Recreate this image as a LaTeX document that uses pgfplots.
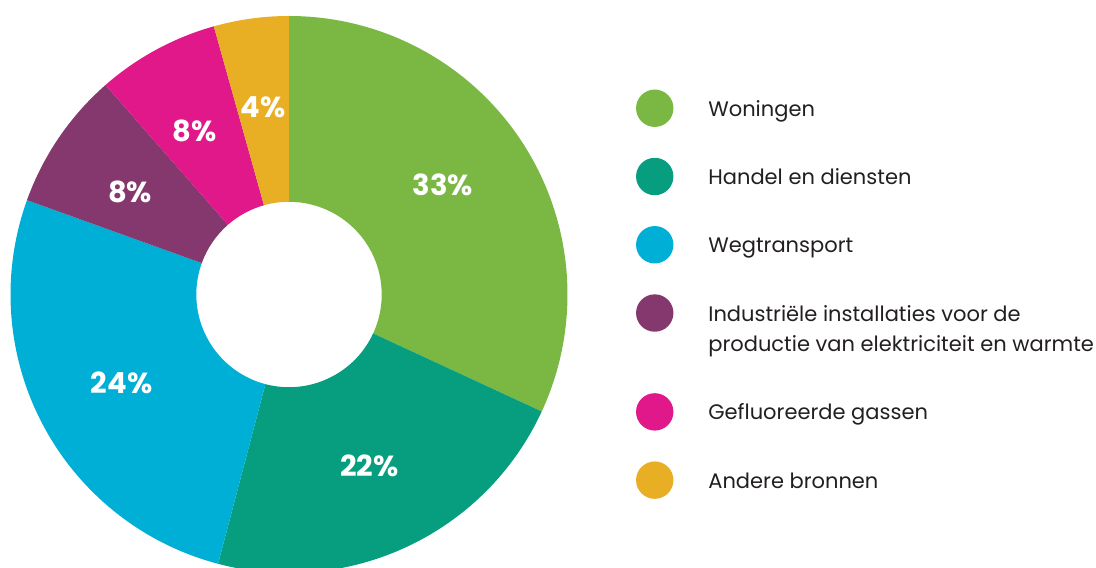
\documentclass[border=0pt]{standalone}
\usepackage{pgfplots}
\usepackage{pgfplotstable}
\pgfplotsset{compat=1.18}
\usepackage{fontspec}
\setmainfont{Poppins}
\newfontfamily\poppins{Poppins}
\definecolor{cgreen}{HTML}{7AB843}
\definecolor{cteal}{HTML}{069E7F}
\definecolor{cblue}{HTML}{00AFD5}
\definecolor{cpurple}{HTML}{84386D}
\definecolor{cpink}{HTML}{E0188A}
\definecolor{corange}{HTML}{E8AE24}
\definecolor{legtext}{HTML}{231F20}
\newcommand\legfont{\poppins\fontsize{10.5}{15}\selectfont}
\newcommand\labfont{\poppins\bfseries\fontsize{14.5}{16}\selectfont}

% share of each slice (percent of the circle), printed label, label angle shift
\pgfplotstableread{
share label col     loff
31.9  33    cgreen  3
22.2  22    cteal   0
26.4  24    cblue   0
8.05  8     cpurple 1.5
7.1   8     cpink   1.5
4.35  4     corange 0
}\shares

\begin{document}
\begin{tikzpicture}
\begin{axis}[
  hide axis, scale only axis,
  width=548pt, height=283.5pt,
  xmin=0, xmax=1096, ymin=0, ymax=567,
  legend image code/.code={\fill[#1, draw=none, overlay] (-26.8pt,4pt) circle (9.35pt); \path[draw=none, fill=none] (0pt,0pt) -- (0pt,33.63pt);},
  legend style={at={(0.6463,0.9136)}, anchor=north west, draw=none, fill=none,
    inner sep=0pt, outer sep=0pt, row sep=0pt, column sep=0pt,
    nodes={inner sep=0pt, text=legtext, font=\legfont, text height=0pt, text depth=0pt},
    cells={anchor=base west}},
]
\addplot[draw=none, forget plot] coordinates {(0,0) (1096,567)};
\coordinate (c) at (axis cs:289,272.5);
\addlegendimage{fill=cgreen}\addlegendentry{Woningen}
\addlegendimage{fill=cteal}\addlegendentry{Handel en diensten}
\addlegendimage{fill=cblue}\addlegendentry{Wegtransport}
\addlegendimage{fill=cpurple}\addlegendentry{Industriële installaties voor de}
\addlegendimage{legend image code/.code={\path[draw=none, fill=none] (0pt,0pt) -- (0pt,14.8pt);}}\addlegendentry{productie van elektriciteit en warmte}
\addlegendimage{fill=cpink}\addlegendentry{Gefluoreerde gassen}
\addlegendimage{fill=corange}\addlegendentry{Andere bronnen}
\end{axis}
\def\Rout{139.25pt}
\def\Rin{46.35pt}
\gdef\cumangle{90}
\foreach \i in {0,...,5}{
  \pgfplotstablegetelem{\i}{share}\of\shares \let\v\pgfplotsretval
  \pgfplotstablegetelem{\i}{label}\of\shares \let\lab\pgfplotsretval
  \pgfplotstablegetelem{\i}{col}\of\shares \let\col\pgfplotsretval
  \pgfplotstablegetelem{\i}{loff}\of\shares \let\lo\pgfplotsretval
  \pgfmathsetmacro\a{\cumangle}
  \pgfmathsetmacro\b{\cumangle-3.6*\v}
  \pgfmathsetmacro\m{(\a+\b)/2+\lo}
  \fill[\col, shift={(c)}] (\a:\Rout) arc[start angle=\a, end angle=\b, radius=\Rout]
     -- (\b:\Rin) arc[start angle=\b, end angle=\a, radius=\Rin] -- cycle;
  \path[shift={(c)}] (\m:94.5pt) node[text=white, font=\labfont, inner sep=0pt] {\lab\%};
  \xdef\cumangle{\b}
}
\pgfresetboundingbox
\useasboundingbox (current axis.south west) rectangle (current axis.north east);
\end{tikzpicture}
\end{document}
